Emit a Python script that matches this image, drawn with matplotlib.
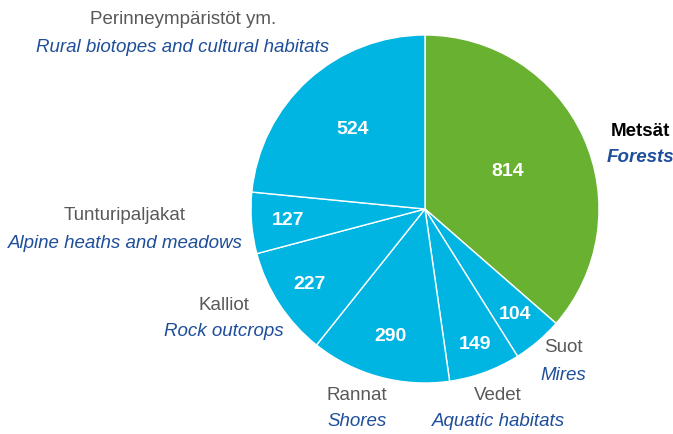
import matplotlib
matplotlib.use('Agg')
import matplotlib.pyplot as plt
from matplotlib import font_manager
import numpy as np

# data, clockwise from the top
values = [814, 104, 149, 290, 227, 127, 524]
names_fi = ['Metsät', 'Suot', 'Vedet', 'Rannat', 'Kalliot', 'Tunturipaljakat', 'Perinneympäristöt ym.']
names_en = ['Forests', 'Mires', 'Aquatic habitats', 'Shores', 'Rock outcrops',
            'Alpine heaths and meadows', 'Rural biotopes and cultural habitats']

green = '#69B231'
blue = '#00B5E2'
colors = [green] + [blue] * 6

# layout: where the number sits (fraction of radius), outer label position in px
num_dist = [0.52, 0.80, 0.83, 0.76, 0.79, 0.79, 0.62]
label_xy = [(640, 131), (563, 348), (498, 395), (357, 395), (224, 305), (125, 216), (183, 20)]

avail = {f.name for f in font_manager.fontManager.ttflist}
fam = ['Liberation Sans Narrow', 'DejaVu Sans'] if 'Liberation Sans Narrow' in avail else ['Liberation Sans', 'DejaVu Sans']

W, H = 673, 434
fig = plt.figure(figsize=(W / 100, H / 100), dpi=100)
ax = fig.add_axes([0, 0, 1, 1])

cx, cy, R = 425, H - 209, 174
wedges, _ = ax.pie(values, colors=colors, startangle=90, counterclock=False,
                   center=(cx, cy), radius=R, frame=True,
                   wedgeprops=dict(edgecolor='white', linewidth=1.0))
ax.set_xlim(0, W)
ax.set_ylim(0, H)
ax.set_aspect('equal')
ax.axis('off')

for w, v, d in zip(wedges, values, num_dist):
    mid = np.deg2rad((w.theta1 + w.theta2) / 2)
    ax.text(cx + d * R * np.cos(mid), cy + d * R * np.sin(mid), str(v),
            ha='center', va='center', color='white', fontsize=14,
            fontweight='bold', family=fam)

for i, (fi, en, (lx, ly)) in enumerate(zip(names_fi, names_en, label_xy)):
    if i == 0:
        ax.text(lx, H - ly, fi, ha='center', va='center', color='black',
                fontsize=13.5, fontweight='bold', family=fam)
        ax.text(lx, H - ly - 27, en, ha='center', va='center', color='#1F4E9A',
                fontsize=13.5, fontweight='bold', style='italic', family=fam)
    else:
        ax.text(lx, H - ly, fi, ha='center', va='center', color='#595959',
                fontsize=13.5, family=fam)
        ax.text(lx, H - ly - 27, en, ha='center', va='center', color='#1F4E9A',
                fontsize=13.5, style='italic', family=fam)

fig.savefig('out.png', dpi=100)
